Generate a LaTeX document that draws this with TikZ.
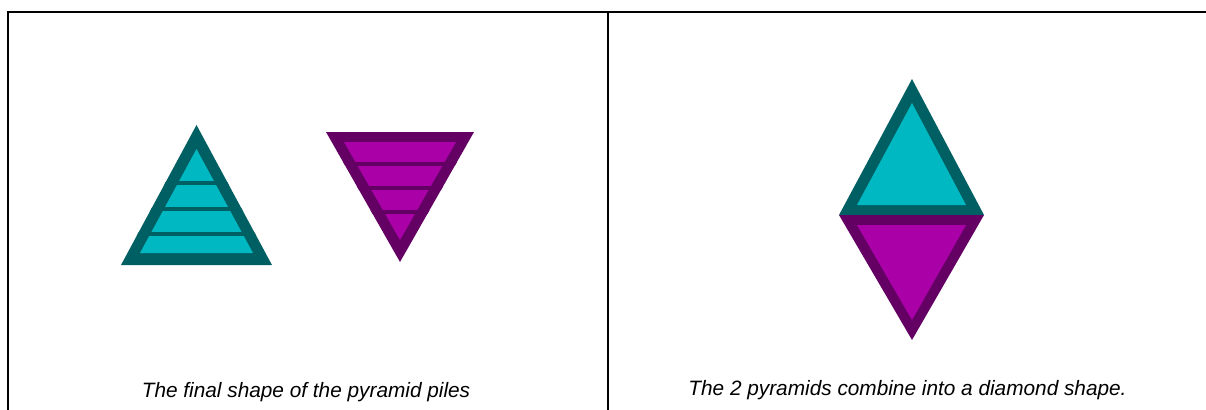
\documentclass[tikz,border=0pt]{standalone}
\usepackage{fontspec}
\setmainfont{Liberation Sans}
\usepackage{tikz}
\usetikzlibrary{positioning}
\usepackage{xcolor}
\definecolor{tealedge}{HTML}{005F63}
\definecolor{tealfill}{HTML}{00B8C1}
\definecolor{plumedge}{HTML}{640064}
\definecolor{plumfill}{HTML}{AA00A8}

\begin{document}
\begin{tikzpicture}[x=0.75pt, y=-0.75pt,
    caption/.style={font=\fontsize{15.6}{18}\selectfont\itshape, inner sep=0pt, anchor=base},
    rule/.style={line width=1.5pt},
    layer/.style={line width=2.6pt}]
  \useasboundingbox (0,0) rectangle (1206,410);

  % Table frame
  \draw[rule] (8,410) -- (8,12.5) -- (1206,12.5);
  \draw[rule] (608,12.5) -- (608,410);

  % Left cell: the two pyramid piles
  \fill[tealedge] (196.5,125) -- (272,265) -- (121,265) -- cycle;
  \fill[tealfill] (196.5,149) -- (253,253) -- (140,253) -- cycle;
  \begin{scope}
    \clip (196.5,125) -- (272,265) -- (121,265) -- cycle;
    \foreach \y in {183,209,234} {
      \draw[tealedge, layer] (100,\y) -- (300,\y);
    }
  \end{scope}

  \fill[plumedge] (326,132) -- (474,132) -- (400,262) -- cycle;
  \fill[plumfill] (344,142) -- (456,142) -- (400,240) -- cycle;
  \begin{scope}
    \clip (326,132) -- (474,132) -- (400,262) -- cycle;
    \foreach \y in {164,188,212} {
      \draw[plumedge, layer] (300,\y) -- (500,\y);
    }
  \end{scope}

  % Right cell: combined diamond
  \fill[tealedge] (912,79) -- (984,215) -- (839,215) -- cycle;
  \fill[tealfill] (912,103) -- (966,205) -- (857,205) -- cycle;
  \fill[plumedge] (839,215) -- (984,215) -- (912,340) -- cycle;
  \fill[plumfill] (857,225) -- (966,225) -- (912,320) -- cycle;

  % Captions
  \node[caption] (leftcap) at (306,397) {The final shape of the pyramid piles};
  \node[caption] (rightcap) at (907.5,395) {The 2 pyramids combine into a diamond shape.};
\end{tikzpicture}
\end{document}
